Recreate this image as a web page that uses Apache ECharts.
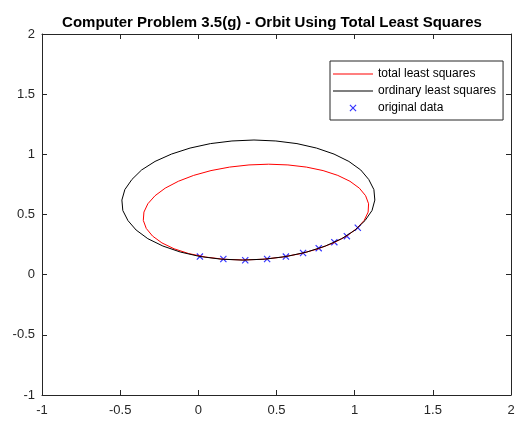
<!DOCTYPE html>
<html>
<head>
<meta charset="utf-8">
<title>Orbit Using Total Least Squares</title>
<script src="https://cdn.jsdelivr.net/npm/echarts@6/dist/echarts.min.js"></script>
<style>
  html, body { margin: 0; padding: 0; background: #fff; }
  #chart { width: 520px; height: 427px; }
</style>
</head>
<body>
<div id="chart"></div>
<script>
// Observed planet positions
const dataX = [1.02, 0.95, 0.87, 0.77, 0.67, 0.56, 0.44, 0.30, 0.16, 0.01];
const dataY = [0.39, 0.32, 0.27, 0.22, 0.18, 0.15, 0.13, 0.12, 0.13, 0.15];

// Fitted orbit, total least squares (closed polyline)
const tlsX = [0.450, 0.573, 0.691, 0.798, 0.892, 0.970, 1.030, 1.070, 1.089, 1.086,
              1.061, 1.014, 0.949, 0.865, 0.767, 0.656, 0.537, 0.413, 0.287,
              0.164, 0.047, -0.061, -0.155, -0.233, -0.293, -0.333, -0.352, -0.348,
              -0.323, -0.277, -0.212, -0.128, -0.030, 0.081, 0.200, 0.324, 0.450];
const tlsY = [0.918, 0.912, 0.894, 0.865, 0.825, 0.776, 0.719, 0.656, 0.589, 0.520,
              0.451, 0.384, 0.321, 0.264, 0.215, 0.175, 0.146, 0.128, 0.122,
              0.128, 0.146, 0.175, 0.215, 0.264, 0.321, 0.384, 0.451, 0.520,
              0.589, 0.656, 0.719, 0.776, 0.825, 0.865, 0.894, 0.912, 0.918];

// Fitted orbit, ordinary least squares (closed polyline)
const olsX = [0.356, 0.496, 0.631, 0.756, 0.868, 0.963, 1.039, 1.090, 1.123, 1.129,
              1.111, 1.066, 1.003, 0.917, 0.813, 0.694, 0.563, 0.425, 0.284,
              0.144, 0.010, -0.115, -0.227, -0.323, -0.398, -0.450, -0.483, -0.489,
              -0.470, -0.425, -0.363, -0.277, -0.172, -0.053, 0.077, 0.215, 0.356];
const olsY = [1.119, 1.111, 1.089, 1.052, 1.002, 0.941, 0.870, 0.791, 0.707, 0.620,
              0.533, 0.449, 0.371, 0.299, 0.238, 0.188, 0.151, 0.129, 0.121,
              0.129, 0.151, 0.188, 0.238, 0.299, 0.371, 0.449, 0.533, 0.620,
              0.707, 0.791, 0.870, 0.941, 1.002, 1.052, 1.089, 1.111, 1.119];

const seriesNames = ['total least squares', 'ordinary least squares', 'original data'];
const titleText = 'Computer Problem 3.5(g) - Orbit Using Total Least Squares';

const FONT = '"Liberation Sans", Arial, Helvetica, sans-serif';
const AXIS_COLOR = '#262626';
const CROSS = 'path://M0,1.2L1.2,0L10,8.8L8.8,10Z M8.8,0L10,1.2L1.2,10L0,8.8Z';
// thin horizontal bar used as the legend key for the fitted curves
const BAR = 'path://M0,0L40,0L40,1L0,1Z';

const zip = (xs, ys) => xs.map((x, i) => [x, ys[i]]);

function axisBase(pos, showLabels, labelMargin) {
  return {
    type: 'value',
    position: pos,
    min: -1, max: 2, interval: 0.5,
    axisLine: { show: true, onZero: false, lineStyle: { color: AXIS_COLOR, width: 1 } },
    axisTick: { show: true, inside: true, length: 5, lineStyle: { color: AXIS_COLOR, width: 1 } },
    axisLabel: { show: showLabels, color: AXIS_COLOR, fontFamily: FONT, fontSize: 13, margin: labelMargin },
    splitLine: { show: false }
  };
}

const chart = echarts.init(document.getElementById('chart'), null, { renderer: 'canvas' });
chart.setOption({
  animation: false,
  backgroundColor: '#fff',
  title: {
    text: titleText,
    left: 267, top: 10, textAlign: 'center',
    textStyle: { fontFamily: FONT, fontSize: 15, fontWeight: 'bold', color: '#000' }
  },
  grid: { left: 42, right: 9, top: 34, bottom: 32, containLabel: false, outerBoundsMode: 'none' },
  xAxis: [axisBase('bottom', true, 9), axisBase('top', false, 9)],
  yAxis: [axisBase('left', true, 7), axisBase('right', false, 7)],
  legend: {
    orient: 'vertical',
    left: 330, top: 61,
    backgroundColor: '#fff',
    borderColor: AXIS_COLOR, borderWidth: 1, borderRadius: 0,
    padding: [6, 7, 5, 3],
    itemGap: 3, itemWidth: 40, itemHeight: 7,
    selectedMode: false,
    textStyle: { fontFamily: FONT, fontSize: 12, color: '#000', lineHeight: 14 },
    data: [
      { name: seriesNames[0], icon: BAR },
      { name: seriesNames[1], icon: BAR },
      { name: seriesNames[2], icon: CROSS }
    ]
  },
  series: [
    {
      name: seriesNames[0], type: 'line', xAxisIndex: 0, yAxisIndex: 0,
      data: zip(tlsX, tlsY), symbol: 'none', smooth: false,
      lineStyle: { color: '#ff0000', width: 1 }, itemStyle: { color: '#ff0000' }
    },
    {
      name: seriesNames[1], type: 'line', xAxisIndex: 0, yAxisIndex: 0,
      data: zip(olsX, olsY), symbol: 'none', smooth: false,
      lineStyle: { color: '#000000', width: 1 }, itemStyle: { color: '#000000' }
    },
    {
      name: seriesNames[2], type: 'scatter', xAxisIndex: 0, yAxisIndex: 0,
      data: zip(dataX, dataY), symbol: CROSS, symbolSize: 7,
      itemStyle: { color: '#0000ff' }
    }
  ]
});
</script>
</body>
</html>
